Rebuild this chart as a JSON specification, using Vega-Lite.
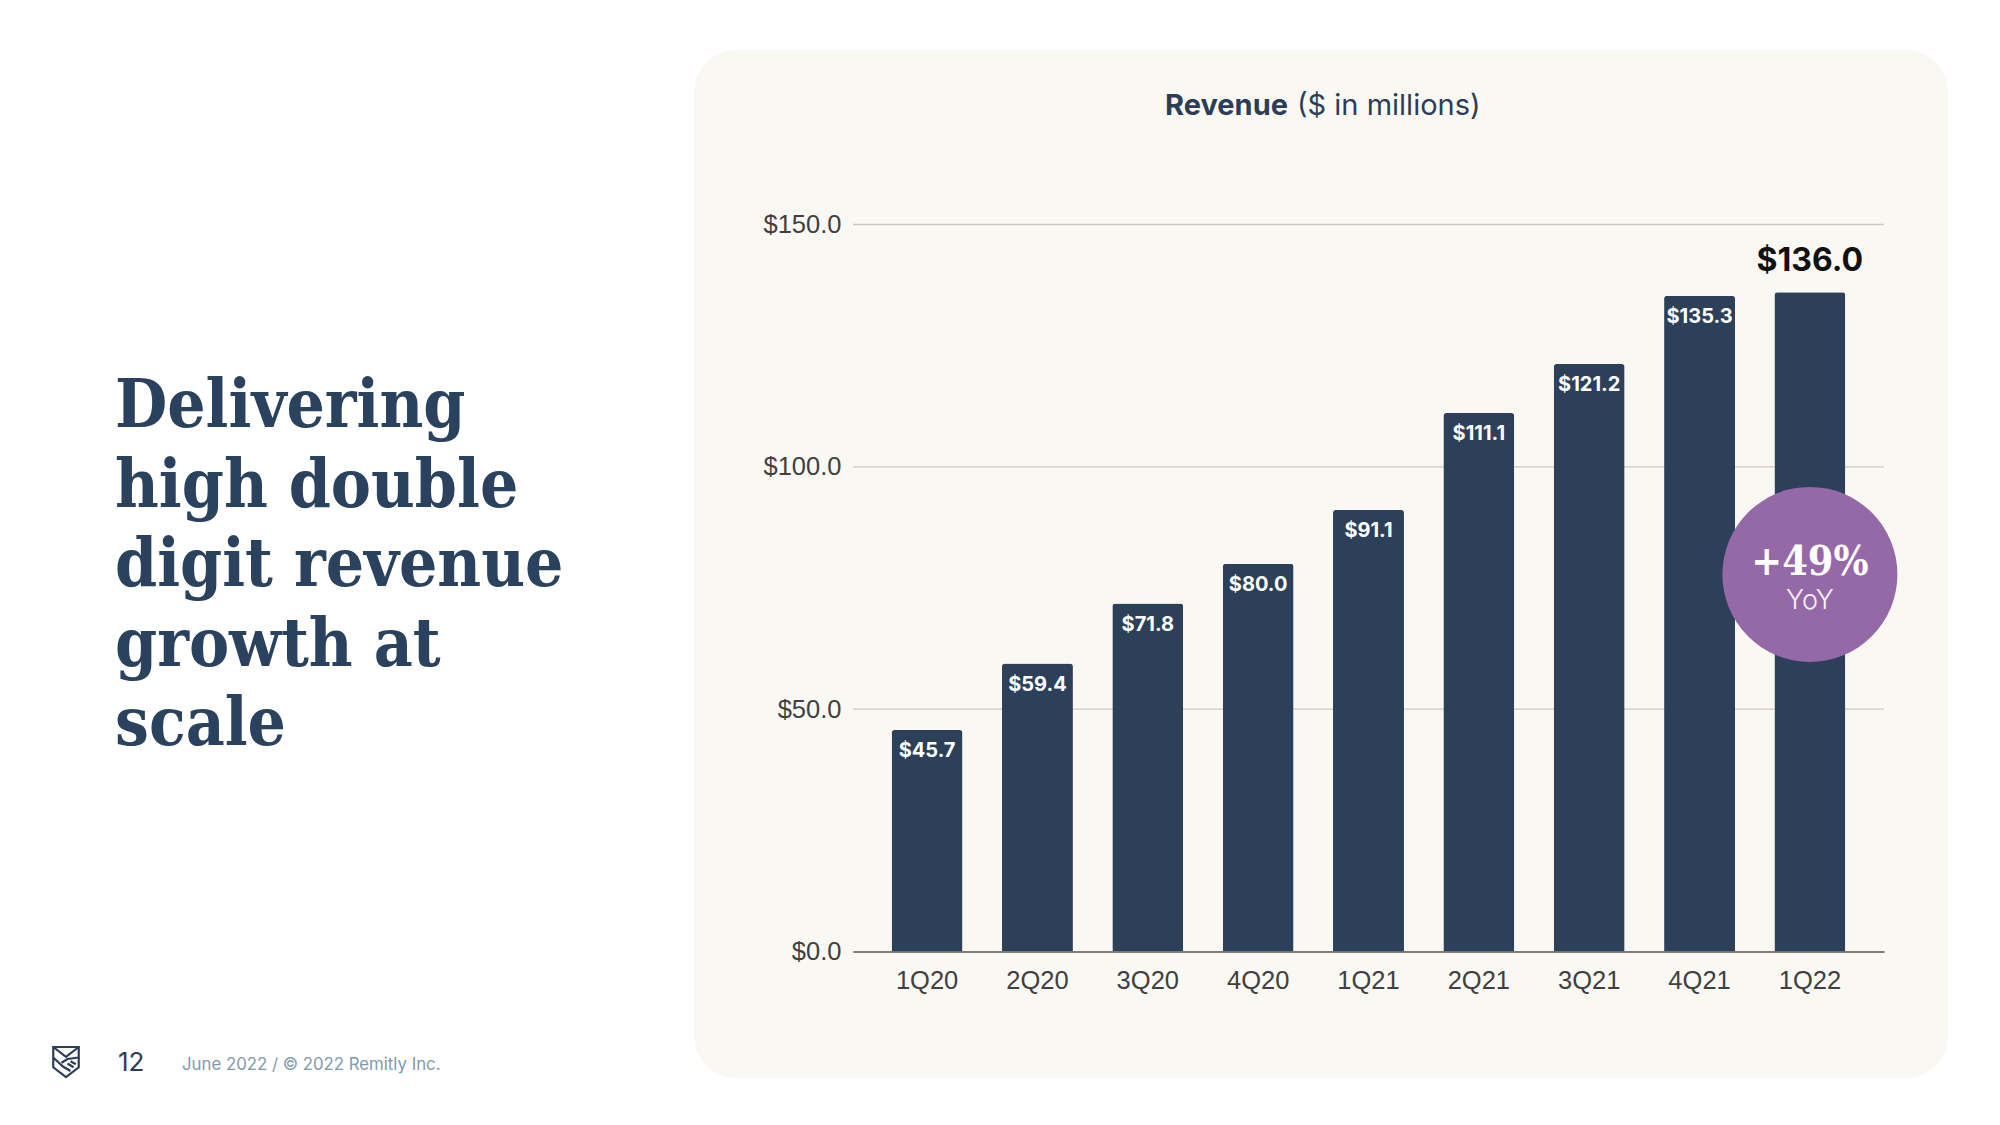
{
  "$schema": "https://vega.github.io/schema/vega-lite/v6.json",
  "width": 1031,
  "height": 727,
  "autosize": {"type": "none"},
  "padding": {"left": 853, "top": 224.5, "right": 116, "bottom": 173.5},
  "background": "#ffffff",
  "config": {"view": {"stroke": null}},
  "datasets": {
    "rev": [
      {"q": "1Q20", "v": 45.7, "lbl": "$45.7"},
      {"q": "2Q20", "v": 59.4, "lbl": "$59.4"},
      {"q": "3Q20", "v": 71.8, "lbl": "$71.8"},
      {"q": "4Q20", "v": 80.0, "lbl": "$80.0"},
      {"q": "1Q21", "v": 91.1, "lbl": "$91.1"},
      {"q": "2Q21", "v": 111.1, "lbl": "$111.1"},
      {"q": "3Q21", "v": 121.2, "lbl": "$121.2"},
      {"q": "4Q21", "v": 135.3, "lbl": "$135.3"},
      {"q": "1Q22", "v": 136.0, "lbl": "$136.0"}
    ]
  },
  "encoding": {
    "x": {
      "field": "q", "type": "ordinal", "sort": null,
      "scale": {"paddingInner": 0.357, "paddingOuter": 0.35},
      "axis": {"title": null, "labelAngle": 0, "labelFont": "Liberation Sans", "labelFontSize": 25.5, "labelColor": "#404040", "labelPadding": 17, "ticks": false, "domain": true, "domainColor": "#555555", "domainWidth": 1.5, "grid": false, "zindex": 1}
    }
  },
  "layer": [
    {
      "data": {"values": [{"panel": "bg"}]},
      "mark": {"type": "rect", "fill": "#faf8f3", "cornerRadius": 42},
      "encoding": {"x": {"value": -159}, "x2": {"value": 1095}, "y": {"value": -174.5}, "y2": {"value": 853.5}}
    },
    {
      "data": {"values": [{"g": 50}, {"g": 100}, {"g": 150}]},
      "mark": {"type": "rule", "color": "#cdc9c2", "strokeWidth": 1.3},
      "encoding": {"x": null, "y": {"field": "g", "type": "quantitative"}}
    },
    {
      "data": {"name": "rev"},
      "mark": {"type": "bar", "color": "#2c4059", "cornerRadiusTopLeft": 3, "cornerRadiusTopRight": 3},
      "encoding": {
        "y": {
          "field": "v", "type": "quantitative",
          "scale": {"domain": [0, 150], "nice": false},
          "axis": {"title": null, "values": [0, 50, 100, 150], "format": "$.1f", "grid": false, "domain": false, "ticks": false, "labelFont": "Liberation Sans", "labelFontSize": 25.5, "labelColor": "#404040", "labelPadding": 12, "zindex": 1}
        }
      }
    },
    {
      "data": {"name": "rev"},
      "transform": [{"filter": "datum.q != '1Q22'"}],
      "mark": {"type": "text", "color": "#ffffff", "font": "Inter", "fontWeight": "bold", "fontSize": 20, "baseline": "middle", "dy": 21},
      "encoding": {"y": {"field": "v", "type": "quantitative"}, "text": {"field": "lbl"}}
    },
    {
      "data": {"name": "rev"},
      "transform": [{"filter": "datum.q == '1Q22'"}],
      "mark": {"type": "text", "color": "#111111", "font": "Inter", "fontWeight": "bold", "fontSize": 32, "baseline": "alphabetic", "dy": -21},
      "encoding": {"y": {"field": "v", "type": "quantitative"}, "text": {"field": "lbl"}}
    },
    {
      "data": {"values": [{"q": "1Q22", "yy": 77.8, "big": "+49%", "small": "YoY"}]},
      "layer": [
        {
          "mark": {"type": "point", "shape": "circle", "filled": true, "fill": "#9569a8", "opacity": 1, "size": 30625, "strokeWidth": 0},
          "encoding": {"y": {"field": "yy", "type": "quantitative"}}
        },
        {
          "mark": {"type": "text", "color": "#ffffff", "font": "DejaVu Serif Condensed", "fontWeight": "bold", "fontSize": 41, "baseline": "alphabetic", "dy": 1},
          "encoding": {"y": {"field": "yy", "type": "quantitative"}, "text": {"field": "big"}}
        },
        {
          "mark": {"type": "text", "color": "#f7f2fa", "font": "Inter", "fontWeight": 300, "fontSize": 27, "baseline": "alphabetic", "dy": 35},
          "encoding": {"y": {"field": "yy", "type": "quantitative"}, "text": {"field": "small"}}
        }
      ]
    },
    {
      "data": {"values": [{"t": "Revenue"}]},
      "mark": {"type": "text", "color": "#2c3e57", "font": "Inter", "fontWeight": "bold", "fontSize": 29, "align": "right", "baseline": "alphabetic"},
      "encoding": {"x": {"value": 435}, "y": {"value": -109.5}, "text": {"field": "t"}}
    },
    {
      "data": {"values": [{"t": "($ in millions)"}]},
      "mark": {"type": "text", "color": "#2c3e57", "font": "Inter", "fontWeight": "normal", "fontSize": 29, "align": "left", "baseline": "alphabetic"},
      "encoding": {"x": {"value": 444}, "y": {"value": -109.5}, "text": {"field": "t"}}
    },
    {
      "data": {"values": [{"t": "Delivering\nhigh double\ndigit revenue\ngrowth at\nscale"}]},
      "mark": {"type": "text", "color": "#2b425f", "font": "DejaVu Serif Condensed", "fontWeight": "bold", "fontSize": 67, "lineHeight": 79.5, "lineBreak": "\n", "align": "left", "baseline": "alphabetic"},
      "encoding": {"x": {"value": -738}, "y": {"value": 202.5}, "text": {"field": "t"}}
    },
    {
      "data": {"values": [{"t": "12"}]},
      "mark": {"type": "text", "color": "#2c3e57", "font": "Inter", "fontSize": 26, "align": "left", "baseline": "alphabetic"},
      "encoding": {"x": {"value": -735}, "y": {"value": 846.5}, "text": {"field": "t"}}
    },
    {
      "data": {"values": [{"t": "June 2022 / © 2022 Remitly Inc."}]},
      "mark": {"type": "text", "color": "#7f9aab", "font": "Inter", "fontSize": 16.8, "align": "left", "baseline": "alphabetic"},
      "encoding": {"x": {"value": -671}, "y": {"value": 845.5}, "text": {"field": "t"}}
    },
    {
      "data": {"values": [{"logo": "shield"}]},
      "mark": {"type": "point", "shape": "M -0.85 -1 L 0.85 -1 L 0.85 0.35 L 0 1 L -0.85 0.35 Z M -0.85 -1 L 0 -0.35 L 0.85 -1 M -0.85 -0.3 L -0.2 0.3 L 0.3 0.6 M 0.85 -0.3 L 0.1 -0.2 L -0.3 0.05 M 0.1 0.1 L 0.5 0.35 M 0.3 -0.05 L 0.65 0.15", "filled": false, "stroke": "#2c3e57", "strokeWidth": 2.2, "size": 900, "opacity": 1},
      "encoding": {"x": {"value": -787}, "y": {"value": 837.5}}
    }
  ]
}
